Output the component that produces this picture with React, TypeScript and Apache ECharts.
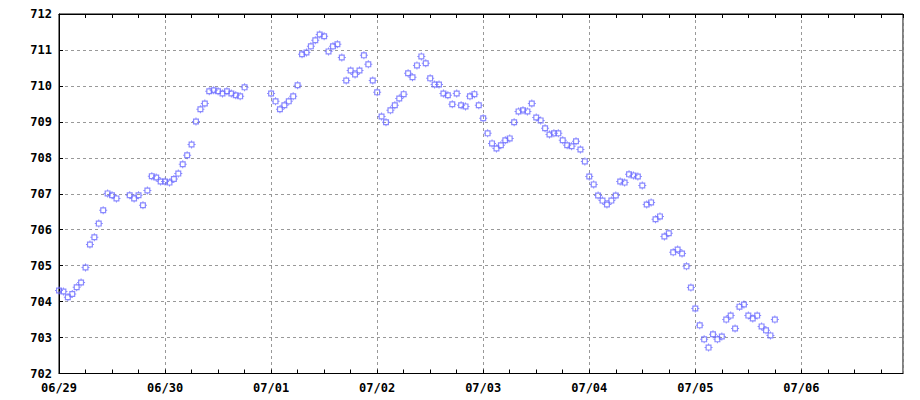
import React, { useEffect, useRef } from "react";
import * as echarts from "echarts";

// hours since 06/29 00:00
const hours: number[] = [
  0, 1, 2, 3, 4, 5, 6, 7, 8, 9, 10, 11, 12, 13, 16, 17, 18, 19, 20, 21, 22, 23,
  24, 25, 26, 27, 28, 29, 30, 31, 32, 33, 34, 35, 36, 37, 38, 39, 40, 41, 42,
  48, 49, 50, 51, 52, 53, 54, 55, 56, 57, 58, 59, 60, 61, 62, 63, 64, 65, 66, 67, 68, 69, 70, 71,
  72, 73, 74, 75, 76, 77, 78, 79, 80, 81, 82, 83, 84, 85, 86, 87, 88, 89, 90, 91, 92, 93, 94, 95,
  96, 97, 98, 99, 100, 101, 102, 103, 104, 105, 106, 107, 108, 109, 110, 111, 112, 113, 114, 115, 116, 117, 118, 119,
  120, 121, 122, 123, 124, 125, 126, 127, 128, 129, 130, 131, 132, 133, 134, 135, 136, 137, 138, 139, 140, 141, 142, 143,
  144, 145, 146, 147, 148, 149, 150, 151, 152, 153, 154, 155, 156, 157, 158, 159, 160, 161, 162,
];

const levels: number[] = [
  704.31, 704.28, 704.12, 704.21, 704.4, 704.53, 704.95, 705.59, 705.79, 706.17, 706.54, 707.01, 706.96, 706.87,
  706.96, 706.87, 706.96, 706.68, 707.09, 707.49, 707.45, 707.34,
  707.34, 707.31, 707.41, 707.56, 707.82, 708.07, 708.37, 709.01, 709.35, 709.51, 709.85, 709.88, 709.85, 709.79,
  709.85, 709.79, 709.74, 709.71, 709.96,
  709.79, 709.57, 709.35, 709.46, 709.57, 709.71, 710.02, 710.88, 710.93, 711.1, 711.27, 711.43, 711.38, 710.96,
  711.1, 711.16, 710.79, 710.15, 710.43, 710.32, 710.43, 710.85, 710.6, 710.15,
  709.82, 709.15, 708.99, 709.32, 709.46, 709.65, 709.77, 710.35, 710.24, 710.57, 710.82, 710.63, 710.21, 710.04,
  710.04, 709.79, 709.74, 709.49, 709.79, 709.46, 709.43, 709.71, 709.77, 709.46,
  709.1, 708.68, 708.4, 708.26, 708.35, 708.49, 708.54, 708.99, 709.29, 709.32, 709.29, 709.51, 709.12, 709.04,
  708.82, 708.65, 708.68, 708.68, 708.49, 708.35, 708.32, 708.46, 708.23, 707.9,
  707.48, 707.26, 706.95, 706.81, 706.7, 706.81, 706.95, 707.34, 707.31, 707.54, 707.51, 707.48, 707.23, 706.7,
  706.76, 706.29, 706.37, 705.81, 705.9, 705.37, 705.45, 705.34, 704.98, 704.39,
  703.81, 703.34, 702.95, 702.72, 703.09, 702.95, 703.03, 703.5, 703.61, 703.25, 703.86, 703.92, 703.61, 703.53,
  703.61, 703.31, 703.2, 703.06, 703.5,
];

const dayLabels: string[] = ["06/29", "06/30", "07/01", "07/02", "07/03", "07/04", "07/05", "07/06"];

const X_MAX = 191;
const Y_MIN = 702;
const Y_MAX = 712;

const MARKER =
  "path://M1 1H7V7H1Z M2.2 2.2V5.8H5.8V2.2Z M3.5 0H4.5V1H3.5Z M3.5 7H4.5V8H3.5Z M0 3.5H1V4.5H0Z M7 3.5H8V4.5H7Z";

const labelFont = {
  fontFamily: "DejaVu Sans Mono",
  fontWeight: "bold" as const,
  fontSize: 12,
  color: "#000",
};

export default function App() {
  const ref = useRef<HTMLDivElement>(null);
  useEffect(() => {
    if (!ref.current) return;
    const chart = echarts.init(ref.current, undefined, { renderer: "svg" });
    const dashed = { color: "#999", type: [3, 3] as any, width: 1 };
    chart.setOption({
      animation: false,
      backgroundColor: "#fff",
      grid: {
        left: 59,
        right: 17,
        top: 14,
        bottom: 26.5,
        show: true,
        borderColor: "#000",
        borderWidth: 1,
        backgroundColor: "transparent",
      },
      xAxis: [
        {
          type: "value",
          position: "bottom",
          min: 0,
          max: X_MAX,
          interval: 6,
          axisLine: { show: true, lineStyle: { color: "#000" } },
          axisTick: { show: true, inside: true, length: 4, lineStyle: { color: "#000" } },
          axisLabel: {
            ...labelFont,
            margin: 8,
            showMaxLabel: false,
            formatter: (v: number) => (v % 24 === 0 ? dayLabels[v / 24] ?? "" : ""),
          },
          splitLine: { show: false },
        },
        {
          type: "value",
          position: "bottom",
          min: 0,
          max: X_MAX,
          interval: 24,
          axisLine: { show: false },
          axisTick: { show: false },
          axisLabel: { show: false },
          splitLine: { show: true, lineStyle: dashed },
        },
        {
          type: "value",
          position: "top",
          min: 0,
          max: X_MAX,
          interval: 6,
          axisLine: { show: true, lineStyle: { color: "#000" } },
          axisTick: { show: true, inside: true, length: 4, lineStyle: { color: "#000" } },
          axisLabel: { show: false },
          splitLine: { show: false },
        },
      ],
      yAxis: [
        {
          type: "value",
          min: Y_MIN,
          max: Y_MAX,
          interval: 1,
          axisLine: { show: true, lineStyle: { color: "#000" } },
          axisTick: { show: true, inside: true, length: 4, lineStyle: { color: "#000" } },
          axisLabel: { ...labelFont, margin: 7 },
          splitLine: { show: true, lineStyle: dashed },
        },
      ],
      series: [
        {
          type: "scatter",
          xAxisIndex: 0,
          yAxisIndex: 0,
          symbol: MARKER,
          symbolSize: 8,
          itemStyle: { color: "#6b6bff" },
          data: hours.map((h, i) => [h, levels[i]]),
          z: 5,
        },
      ],
    });
    return () => chart.dispose();
  }, []);
  return (
    <div
      ref={ref}
      style={{ position: "fixed", left: 0, top: 0, width: 920, height: 400, background: "#fff" }}
    />
  );
}
